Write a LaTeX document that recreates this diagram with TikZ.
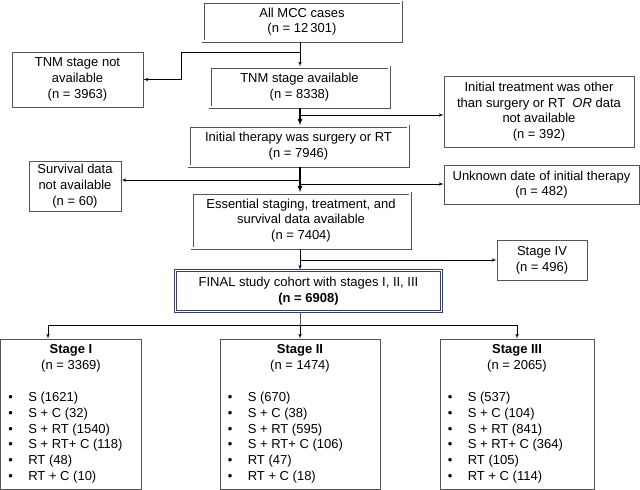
\documentclass[tikz,border=0pt]{standalone}
\usepackage{fontspec}
\setmainfont{Liberation Sans}
\usetikzlibrary{arrows}

\definecolor{boxgray}{RGB}{85,85,85}
\definecolor{navy}{RGB}{50,62,140}

\newcommand{\bul}[1]{\makebox[20pt][l]{\textbullet}#1}

\begin{document}
\begin{tikzpicture}[x=1pt,y=-1pt]
\tikzset{txt/.style = {font=\fontsize{13}{15.7}\selectfont, align=center, inner sep=0pt}}
\tikzset{box/.style = {txt, draw=boxgray, line width=0.8pt}}
\tikzset{dblbox/.style = {txt, preaction={draw=boxgray, line width=3pt}, draw=white, line width=1.2pt}}
\tikzset{finalbox/.style = {txt, preaction={draw=navy, line width=3.2pt}, draw=white, line width=1.3pt}}
\tikzset{edge/.style = {->, > = latex', line width=0.6pt}}
\tikzset{thick edge/.style = {edge, line width=1.3pt}}
\useasboundingbox (0,0) rectangle (640,490);
% main chain
\node[dblbox, minimum width=198, minimum height=39] (mcc) at (302,21.5) {All MCC cases\\(n = 12\,301)};
\node[dblbox, minimum width=179, minimum height=40] (tnm) at (299.5,87) {TNM stage available\\(n = 8338)};
\node[dblbox, minimum width=219, minimum height=40] (ini) at (298.5,146) {Initial therapy was surgery or RT\\(n = 7946)};
\node[dblbox, minimum width=218, minimum height=55] (ess) at (301,220.5) {Essential staging, treatment, and\\survival data available\\(n = 7404)};
\node[finalbox, minimum width=266, minimum height=41] (fin) at (308.5,291) {FINAL study cohort with stages I, II, III\\\textbf{(n = 6908)}};
% excluded
\node[box, minimum width=131, minimum height=55] (na) at (77.5,79.5) {TNM stage not\\available\\(n = 3963)};
\node[box, minimum width=190, minimum height=71] (oth) at (539,111.5) {Initial treatment was other\\than surgery or RT~ \textit{OR} data\\not available\\(n = 392)};
\node[box, minimum width=92, minimum height=50] (surv) at (75,186) {Survival data\\not available\\(n = 60)};
\node[box, minimum width=195, minimum height=39] (unk) at (541.5,184.5) {Unknown date of initial therapy\\(n = 482)};
\node[box, minimum width=90, minimum height=40] (st4) at (542,260) {Stage IV\\(n = 496)};
% stages
\node[box, minimum width=141, minimum height=150] (s1) at (71,414) {};
\node[box, minimum width=160, minimum height=150] (s2) at (300,414) {};
\node[box, minimum width=154, minimum height=150] (s3) at (517,414) {};
\node[txt] (s1h) at ([yshift=-20pt]s1.north) {\textbf{Stage I}\\(n = 3369)};
\node[txt] (s2h) at ([yshift=-20pt]s2.north) {\textbf{Stage II}\\(n = 1474)};
\node[txt] (s3h) at ([yshift=-20pt]s3.north) {\textbf{Stage III}\\(n = 2065)};
\node[txt, align=left, anchor=west] (s1l) at ([xshift=8pt,yshift=-23.5pt]s1.west)
  {\bul{S (1621)}\\\bul{S + C (32)}\\\bul{S + RT (1540)}\\\bul{S + RT+ C (118)}\\\bul{RT (48)}\\\bul{RT + C (10)}};
\node[txt, align=left, anchor=west] (s2l) at ([xshift=8pt,yshift=-23.5pt]s2.west)
  {\bul{S (670)}\\\bul{S + C (38)}\\\bul{S + RT (595)}\\\bul{S + RT+ C (106)}\\\bul{RT (47)}\\\bul{RT + C (18)}};
\node[txt, align=left, anchor=west] (s3l) at ([xshift=8pt,yshift=-23.5pt]s3.west)
  {\bul{S (537)}\\\bul{S + C (104)}\\\bul{S + RT (841)}\\\bul{S + RT+ C (364)}\\\bul{RT (105)}\\\bul{RT + C (114)}};
% junctions
\coordinate (j1) at (300,52);
\coordinate (k1) at (181,79.5);
\coordinate (j2) at (300,115);
\coordinate (j3) at (300,180);
\coordinate (j3r) at (300,184);
\coordinate (j4) at (300,260);
\coordinate (j5) at (300,325);
\coordinate (k5) at (48,325);
% edges
\draw[edge] (j1 |- mcc.south) -- (j1 |- tnm.north);
\draw[edge] (j1) -| (k1) -- (na.east);
\draw[thick edge] (j2 |- tnm.south) -- (j2 |- ini.north);
\draw[edge] (j2) -- (j2 -| oth.west);
\draw[thick edge] (j3 |- ini.south) -- (j3 |- ess.north);
\draw[edge] (j3) -- (j3 -| surv.east);
\draw[edge] (j3r) -- (j3r -| unk.west);
\draw[edge] (j4 |- ess.south) -- (j4 |- fin.north);
\draw[edge] (j4) -- (st4.west);
\draw[line width=0.6pt, boxgray] (j5 |- fin.south) -- (j5);
\draw[edge] (j5) -- (s2.north);
\draw[edge] (j5) -- (k5) -- (k5 |- s1.north);
\draw[edge] (j5) -| (s3.north);
\end{tikzpicture}
\end{document}
